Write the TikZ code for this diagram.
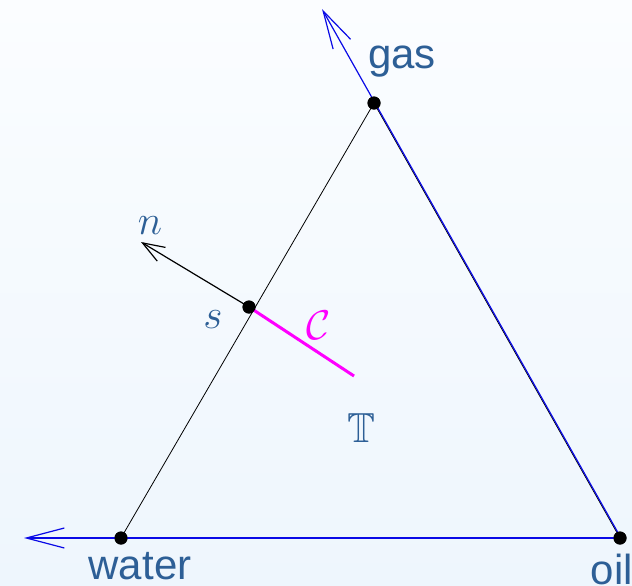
\documentclass[tikz,border=0pt]{standalone}
\usepackage{fontspec}
\setmainfont{Liberation Sans}
\usepackage{amsmath,amssymb}
\usetikzlibrary{arrows.meta}
\definecolor{txtblue}{RGB}{45,95,150}
\definecolor{bgtop}{RGB}{251,253,255}
\definecolor{bgbot}{RGB}{238,246,253}
\definecolor{axblue}{RGB}{10,10,230}
\definecolor{mag}{RGB}{255,0,255}
\begin{document}
\begin{tikzpicture}[x=0.5pt,y=-0.5pt,
  lbl/.style={text=txtblue,font=\fontsize{21}{25}\selectfont,inner sep=0pt},
  dot/.style={circle,fill=black,inner sep=0pt,minimum size=6.5pt},
  axis/.style={draw=axblue,line width=0.6pt,-{Straight Barb[length=19pt,width=10pt,line width=0.6pt]}},
  edge/.style={draw=black,line width=0.4pt}]
\shade[top color=bgtop,bottom color=bgbot] (0,0) rectangle (632,585);
\useasboundingbox (0,0) rectangle (632,585);
\node[dot] (w) at (121,538) {};
\node[dot] (o) at (620,538) {};
\node[dot] (g) at (374,103) {};
\node[dot] (s) at (249,307) {};
\coordinate (wax) at (24,538);
\coordinate (gax) at (322,9);
\coordinate (ntip) at (141,242);
\coordinate (cend) at (354,376);
\draw[edge] (w.center) -- (g.center) -- (o.center);
\draw[axis] (o.center) -- (w.center) -- (wax);
\draw[axis] ([xshift=0.5pt]o.center) -- ([xshift=0.5pt]g.center) -- (gax);
\draw[black,line width=0.6pt,-{Straight Barb[length=11pt,width=8pt,line width=0.6pt]}] (s.center) -- (ntip);
\draw[mag,line width=1.5pt] (s.center) -- (cend);
\node[dot] at (w) {};
\node[dot] at (o) {};
\node[dot] at (g) {};
\node[dot] at (s) {};
\node[lbl] (lgas) at (402,62) {gas};
\node[lbl] (lwater) at (140,566) {water};
\node[lbl] (loil) at (612,569) {oil};
\node[lbl] (ln) at (150,226) {$n$};
\node[lbl] (ls) at (213,320) {$s$};
\node[lbl,text=mag] (lc) at (319,325) {$\mathcal{C}$};
\node[lbl] (lt) at (361,428) {$\mathbb{T}$};
\end{tikzpicture}
\end{document}
